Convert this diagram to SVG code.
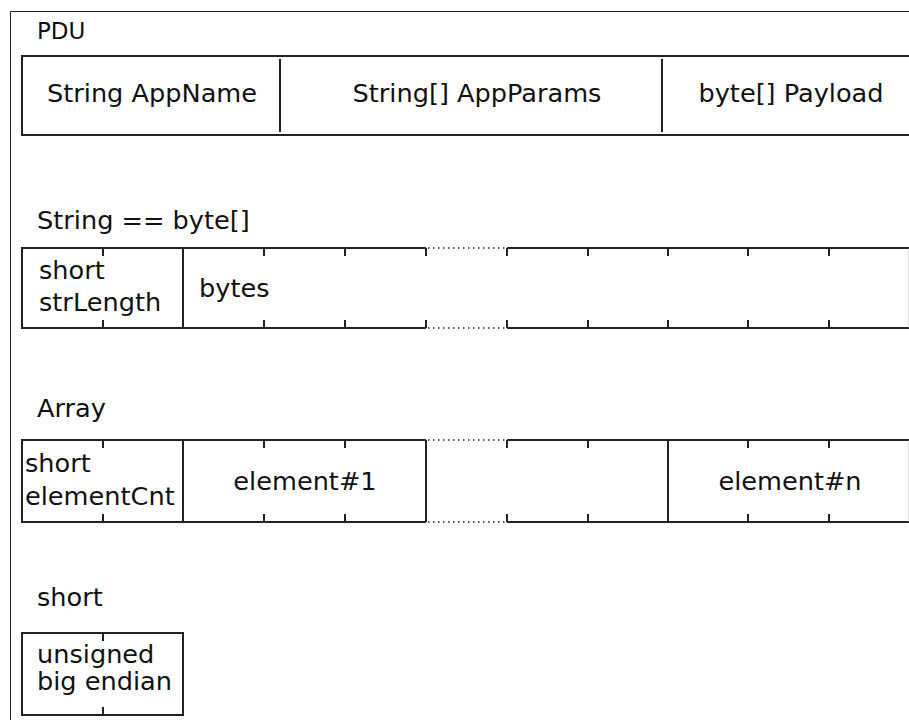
<svg xmlns="http://www.w3.org/2000/svg" width="909" height="720" viewBox="0 0 909 720">
<style>
text{font-family:"DejaVu Sans",sans-serif;font-size:25.6px;fill:#111}
.c{text-anchor:middle}
.t{font-size:23px}
.box{fill:none;stroke:#222;stroke-width:2}
.ln{stroke:#222;stroke-width:2;fill:none}
.dot{stroke:#222;stroke-width:1.5;stroke-dasharray:1.5 3.5;fill:none}
.frame{stroke:#222;stroke-width:1;fill:none}
</style>
<rect width="909" height="720" fill="#fff"/>
<g id="frame"><path class="frame" d="M10.5,720V11.5H909"/></g>

<g id="pdu">
<text class="t" x="37" y="39">PDU</text>
<rect class="box" x="22" y="56" width="898" height="79"/>
<path class="ln" d="M280,59V132M662,59V132"/>
<text class="c" x="152" y="102">String AppName</text>
<text class="c" x="477" y="102">String[] AppParams</text>
<text class="c" x="791" y="102">byte[] Payload</text>
</g>

<g id="string">
<text x="37" y="229">String == byte[]</text>
<path class="ln" d="M22,248H426M507,248H911M22,328H426M507,328H911M22,247V329M183,248V328"/>
<path class="dot" d="M428,248H506M428,328H506"/>
<path class="ln" d="M103,248v8M264,248v8M345,248v8M426,248v8M507,248v8M588,248v8M668,248v8M748,248v8M829,248v8M103,328v-8M264,328v-8M345,328v-8M426,328v-8M507,328v-8M588,328v-8M668,328v-8M748,328v-8M829,328v-8"/>
<path d="M909,248V328" stroke="#bbb" stroke-width="1"/>
<text x="39" y="279">short</text>
<text x="39" y="311">strLength</text>
<text x="199" y="297">bytes</text>
</g>

<g id="array">
<text x="37" y="417">Array</text>
<path class="ln" d="M22,440H426M507,440H911M22,522H426M507,522H911M22,439V523M183,440V522M426,440V522M668,440V522"/>
<path class="dot" d="M428,440H506M428,522H506"/>
<path class="ln" d="M103,440v8M264,440v8M345,440v8M507,440v8M588,440v8M748,440v8M829,440v8M103,522v-8M264,522v-8M345,522v-8M507,522v-8M588,522v-8M748,522v-8M829,522v-8"/>
<path d="M909,440V522" stroke="#bbb" stroke-width="1"/>
<text x="25" y="472">short</text>
<text x="25" y="505">elementCnt</text>
<text class="c" x="305" y="490">element#1</text>
<text class="c" x="790" y="490">element#n</text>
</g>

<g id="short">
<text x="37" y="606">short</text>
<rect class="box" x="22" y="633" width="161" height="82"/>
<path class="ln" d="M103,633v8M103,715v-8"/>
<text x="37" y="663">unsigned</text>
<text x="37" y="690">big endian</text>
</g>
</svg>
